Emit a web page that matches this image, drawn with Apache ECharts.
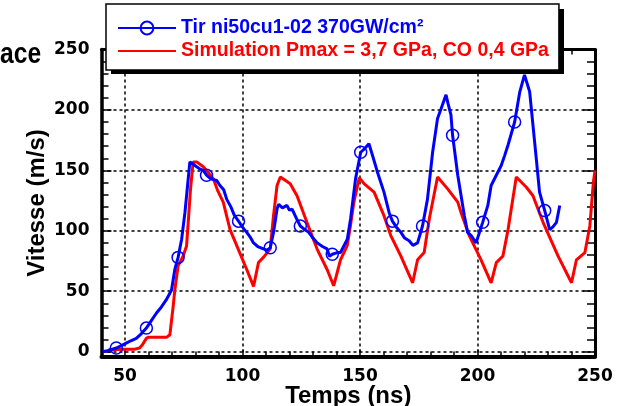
<!DOCTYPE html>
<html>
<head>
<meta charset="utf-8">
<script src="https://cdn.jsdelivr.net/npm/echarts@6/dist/echarts.min.js"></script>
<style>
  html, body { margin: 0; padding: 0; background: #fff; }
  #chart { width: 617px; height: 406px; }
</style>
</head>
<body>
<div id="chart"></div>
<script>
// Measured free-surface velocity vs. simulated profile
const blueName = 'Tir ni50cu1-02 370GW/cm²';
const redName = 'Simulation Pmax = 3,7 GPa, CO 0,4 GPa';

const blueTime = [40.5, 43, 46.3, 48.5, 50.5, 52.5, 54.8, 57, 59.1, 61, 63.4, 65.5, 67.6, 69.8, 71.2, 72.6,
  74.1, 75.5, 76.5, 77.6, 79, 80.5, 82, 83.3, 84.7, 86.5, 89, 90.4, 92, 93.3, 95, 96.5, 98.3,
  100, 101.8, 103.2, 104.7, 106.5, 108.9, 110.5, 111.8, 113.2, 114.7, 115.4, 117, 118.9, 120, 121.1,
  123, 124.6, 126.5, 128.2, 130, 131.8, 134, 136, 137, 138.2, 140.3, 141.7, 144.6, 146, 148.1,
  150.3, 152, 153.8, 155.3, 157.4, 160.2, 162.4, 163.8, 165.5, 167.4, 169, 170.9, 172.5, 174.5,
  176.6, 178.7, 180.9, 183, 184.5, 186.6, 187.5, 188.7, 189.4, 191.6, 194.4, 195.8, 197.3, 199.4,
  202.2, 204.4, 205.8, 208, 210.1, 211.5, 213, 215.8, 218, 220, 222.2, 223.6, 225, 226.4, 228.6,
  230.7, 232, 233.6, 235];
const blueSpeed = [0, 1, 3, 5, 7, 9, 11, 15, 19.5, 25, 32, 37, 43, 51, 68, 78,
  93, 115, 135, 157, 155, 153, 151, 150, 146, 143, 141.7, 137.5, 134, 126, 120, 113, 108,
  103, 98.7, 95, 90, 87, 85, 84, 86, 98.7, 118, 122, 119, 121, 117, 118,
  110, 104, 101, 98.7, 94, 90, 87, 85, 79, 80.6, 82, 82, 93, 110, 143,
  165, 168, 172, 162.5, 148.7, 132, 115, 108, 103, 98.7, 94, 91.7, 88, 90,
  104, 126, 165, 193, 201, 212.5, 205, 196, 179, 146, 112.5, 98.7, 96, 90,
  107, 121, 137.5, 146, 154, 162, 171, 190, 215, 229, 215, 187.5, 160, 132, 116.7,
  101, 103, 107, 121];
const blueMarkerTimes = [46.3, 59.1, 72.6, 84.7, 98.3, 111.8, 124.6, 138.2, 150.3, 163.8,
  176.6, 189.4, 202.2, 215.8, 228.6];

const redTime = [43, 50, 54, 56.2, 57.5, 59.1, 60, 67.8, 69.1, 70.5, 71.2, 72.6, 74.7, 76.2, 76.9,
  77.9, 79, 80.5, 83.3, 85.5, 87.6, 89.5, 91.8, 94.7, 97.6, 101.8, 104.7, 106.8, 108.9, 111.8,
  113.2, 114.7, 116.1, 118, 120.3, 123.2, 127.4, 131.8, 136, 138.8, 141.7, 144.6, 146, 147.4,
  149.7, 151.7, 156, 160.2, 163.1, 167.4, 172.4, 174.5, 177.3, 179.5, 183, 187.3, 191.6, 193,
  196.5, 201.5, 205.8, 208, 210.8, 213, 216.5, 220.8, 223.6, 227.9, 234.3, 240, 242.1, 245.7,
  247.8, 249.3, 250];
const redSpeed = [1.5, 2, 2, 3, 6, 11, 12, 12, 14, 37.5, 51, 71, 79, 87.5, 107,
  135, 157, 157, 153, 148, 143, 133, 123.7, 101, 87.5, 68, 54, 73.7, 78, 85,
  112.5, 137.5, 144.5, 142, 139, 129, 107, 84.7, 68, 54.5, 76, 88, 105, 123.7,
  144, 139, 132, 112.5, 96, 79, 57, 76, 82, 110, 144.5, 134.7, 123.7, 115,
  96, 76, 57, 73.7, 79, 101, 144.5, 136, 129, 107, 79, 57, 76, 82,
  104, 140, 150];

const xTickLabels = [50, 100, 150, 200, 250];
const xMinorTicks = [40, 50, 60, 70, 80, 90, 100, 110, 120, 130, 140, 150, 160, 170, 180, 190,
  200, 210, 220, 230, 240, 250];
const yTickLabels = [0, 50, 100, 150, 200, 250];
const yMinorTicks = [0, 10, 20, 30, 40, 50, 60, 70, 80, 90, 100, 110, 120, 130, 140, 150, 160,
  170, 180, 190, 200, 210, 220, 230, 240, 250];

const X_MIN = 40, X_MAX = 250, Y_MIN = -4, Y_MAX = 250;

const markerSet = new Set(blueMarkerTimes);
const blueData = blueTime.map((t, i) => ({
  value: [t, blueSpeed[i]],
  symbol: markerSet.has(t) ? 'circle' : 'none'
}));
const redData = redTime.map((t, i) => [t, redSpeed[i]]);

const tickFont = { fontFamily: 'DejaVu Sans', fontWeight: 'bold', fontSize: 17, color: '#000' };
const nameFont = { fontFamily: 'Liberation Sans', fontWeight: 'bold', fontSize: 24, color: '#000' };
const frameLine = (w) => ({ show: true, onZero: false, lineStyle: { color: '#000', width: w } });
const dotted = { show: true, lineStyle: { color: '#000', width: 1.5, type: [3, 3] } };

function tickOnlyX(pos, values, len) {
  return {
    type: 'value', position: pos, min: X_MIN, max: X_MAX,
    axisLine: { show: false, onZero: false },
    axisTick: { show: true, inside: true, length: len, customValues: values,
      lineStyle: { color: '#000', width: 1.5 } },
    axisLabel: { show: false }, splitLine: { show: false }
  };
}
function tickOnlyY(pos, values, len) {
  return {
    type: 'value', position: pos, min: Y_MIN, max: Y_MAX,
    axisLine: { show: false, onZero: false },
    axisTick: { show: true, inside: true, length: len, customValues: values,
      lineStyle: { color: '#000', width: 1.5 } },
    axisLabel: { show: false }, splitLine: { show: false }
  };
}

const chart = echarts.init(document.getElementById('chart'), null, { renderer: 'canvas' });
chart.setOption({
  animation: false,
  backgroundColor: '#fff',
  grid: { left: 101.5, right: 22, top: 49.5, bottom: 49.5, containLabel: false,
    outerBoundsMode: 'none' },
  legend: {
    orient: 'vertical', left: 106, top: 4, z: 10,
    padding: [14, 10, 9, 11], itemWidth: 58, itemHeight: 16, itemGap: 3,
    backgroundColor: '#fff', borderColor: '#000', borderWidth: 1.5, borderRadius: 0,
    textStyle: { fontFamily: 'Liberation Sans', fontWeight: 'bold', fontSize: 19.5 },
    data: [
      { name: blueName, textStyle: { color: '#0000ff' } },
      { name: redName, textStyle: { color: '#ff0000' },
        itemStyle: { color: 'rgba(0,0,0,0)', borderWidth: 0, opacity: 0 } }
    ]
  },
  graphic: [
    {
      type: 'rect', z: 9, left: 111, top: 9,
      shape: { width: 453, height: 65 },
      style: { fill: '#000' }
    },
    {
      type: 'text', z: 9, x: 0, y: 55, scaleX: 0.85,
      style: { text: 'ace', font: 'bold 29px "Liberation Sans"', fill: '#000',
        textAlign: 'left', textVerticalAlign: 'middle' }
    }
  ],
  xAxis: [
    {
      type: 'value', position: 'bottom', min: X_MIN, max: X_MAX,
      name: 'Temps (ns)', nameLocation: 'middle', nameGap: 28, nameMoveOverlap: false,
      nameTextStyle: nameFont,
      axisLine: frameLine(4),
      axisTick: { show: true, inside: true, length: 7, customValues: xTickLabels,
        lineStyle: { color: '#000', width: 1.5 } },
      axisLabel: { show: true, margin: 12, customValues: xTickLabels, ...tickFont },
      splitLine: dotted
    },
    tickOnlyX('bottom', xMinorTicks, 5),
    {
      type: 'value', position: 'top', min: X_MIN, max: X_MAX,
      axisLine: frameLine(3),
      axisTick: { show: true, inside: true, length: 5, customValues: xMinorTicks,
        lineStyle: { color: '#000', width: 1.5 } },
      axisLabel: { show: false }, splitLine: { show: false }
    }
  ],
  yAxis: [
    {
      type: 'value', position: 'left', min: Y_MIN, max: Y_MAX,
      name: 'Vitesse (m/s)', nameLocation: 'middle', nameGap: 52, nameRotate: 90,
      nameMoveOverlap: false, nameTextStyle: nameFont,
      axisLine: frameLine(3.5),
      axisTick: { show: true, inside: true, length: 10, customValues: yTickLabels,
        lineStyle: { color: '#000', width: 1.5 } },
      axisLabel: { show: true, margin: 12, customValues: yTickLabels, ...tickFont },
      splitLine: dotted
    },
    tickOnlyY('left', yMinorTicks, 7),
    {
      type: 'value', position: 'right', min: Y_MIN, max: Y_MAX,
      axisLine: frameLine(3),
      axisTick: { show: true, inside: true, length: 8, customValues: yMinorTicks,
        lineStyle: { color: '#000', width: 1.5 } },
      axisLabel: { show: false }, splitLine: { show: false }
    },
    tickOnlyY('right', yTickLabels, 12)
  ],
  series: [
    {
      name: blueName, type: 'line', xAxisIndex: 0, yAxisIndex: 0,
      data: blueData, color: '#0000ff',
      symbol: 'circle', symbolSize: 12, showSymbol: true,
      itemStyle: { color: 'rgba(0,0,0,0)', borderColor: '#0000ff', borderWidth: 1.5 },
      lineStyle: { color: '#0000ff', width: 3 },
      z: 3
    },
    {
      name: redName, type: 'line', xAxisIndex: 0, yAxisIndex: 0,
      data: redData, color: '#ff0000',
      symbol: 'none', showSymbol: false,
      lineStyle: { color: '#ff0000', width: 3 },
      z: 2
    }
  ]
});
</script>
</body>
</html>
